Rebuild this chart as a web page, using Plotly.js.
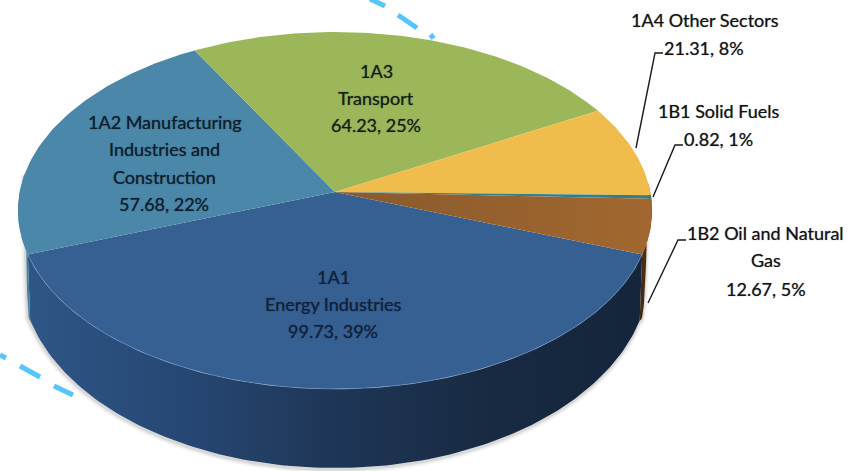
<!DOCTYPE html>
<html>
<head>
<meta charset="utf-8">
<script src="https://cdn.plot.ly/plotly-3.0.1.min.js"></script>
<style>html,body{margin:0;padding:0;background:#fff}#c{width:855px;height:471px}</style>
</head>
<body>
<div id="c"></div>
<script>
// ---- data ----
const categories = ['1A1 Energy Industries','1A2 Manufacturing Industries and Construction','1A3 Transport','1A4 Other Sectors','1B1 Solid Fuels','1B2 Oil and Natural Gas'];
const values = [99.73, 57.68, 64.23, 21.31, 0.82, 12.67];
const percents = [39, 22, 25, 8, 1, 5];
const topColors = ['#365f92','#4a87a8','#9bb75a','#f0bd4c','#2e7f8f','#a3662f'];
const labelLines = [
  ['1A1','Energy Industries'],
  ['1A2 Manufacturing','Industries and','Construction'],
  ['1A3','Transport'],
  ['1A4 Other Sectors'],
  ['1B1 Solid Fuels'],
  ['1B2 Oil and Natural','Gas']
];
const labelX = [[333,333,333],[165,164,164,164],[376,376,376],[704.5,703.5],[718.5,718.5],[765.7,766,766]];
const labelY = [[277,304,331],[122,149,177,204],[71,98,125],[20,48],[111,139],[233,260,289]];
const labelColors = ['#10213a','#0f1c2b','#141e10','#141414','#141414','#141414'];

// ---- pie geometry (perspective disc seen from above) ----
const APEX_X=335, APEX_Y=192, A=315.3, B=176.6, K=-0.1036, START=20;
const total = values.reduce((s,v)=>s+v,0);
const rad = d=>d*Math.PI/180;
function rim(phi){
  const u=Math.cos(rad(phi)), v=Math.sin(rad(phi)), w=1+K*v;
  return [APEX_X+A*u/w, APEX_Y+B*v/w];
}
function front(phi){ // base of the wall, front part
  const p=rim(phi);
  return [APEX_X+(p[0]-APEX_X)*0.992, APEX_Y+59.7+(p[1]-APEX_Y)*1.098];
}
function low(phi){ // base of the wall; tapers up to the silhouette at both sides
  const e0=START, e1=180-START;
  if(phi>=e0 && phi<=e1) return front(phi);
  const ref = phi<e0 ? e0 : e1, end = phi<e0 ? -3 : 186;
  const t=Math.min(1,(phi-ref)/(end-ref)), a=front(ref), b=rim(end);
  return [a[0]+(b[0]-a[0])*Math.sqrt(t), a[1]+(b[1]-a[1])*Math.pow(t,1.5)];
}
function steps(a,b){
  const out=[], n=Math.max(2,Math.ceil(Math.abs(b-a)));
  for(let i=0;i<=n;i++) out.push(a+(b-a)*i/n);
  return out;
}
function arc(a,b){ return steps(a,b).map(rim); }
let cum=START; const spans=values.map(v=>{const s=[cum,cum+v/total*360];cum=s[1];return s;});

const traces=[];
function poly(pts,opt){
  traces.push(Object.assign({type:'scatter',mode:'lines',x:pts.map(p=>p[0]),y:pts.map(p=>p[1]),
    fill:'toself',line:{width:0},hoverinfo:'skip',showlegend:false},opt));
}
function line(xs,ys,color,width,extra){
  traces.push({type:'scatter',mode:'lines',x:xs,y:ys,line:Object.assign({color:color,width:width},extra||{}),hoverinfo:'skip',showlegend:false});
}

// dashed blue lines behind the pie
line([370,385,null,398,417,null,430,434],[-1,6,null,15,28,null,38,35],'#55c5fb',5);
line([0,6,null,20,40,null,54,73],[355,358,null,366,377,null,386,395],'#55c5fb',5);

// soft shadow under the wall
const frontArc=steps(-3,186).map(low);
[[9,'rgba(120,120,120,0.05)'],[6,'rgba(110,110,110,0.08)'],[3,'rgba(90,90,90,0.14)']].forEach(s=>{
  line(frontArc.map(p=>p[0]-0.5),frontArc.map(p=>p[1]+1.5),s[1],s[0]);
});

// walls
const wallStyles=[
  {fillgradient:{type:'horizontal',colorscale:[[0,'#2e5686'],[0.27,'#264672'],[0.5,'#1e3656'],[0.75,'#182a42'],[1,'#14253b']]}},
  {fillcolor:'#41809e'},
  null,
  {fillcolor:'#8a6a2c'},
  {fillcolor:'#2a4a50'},
  {fillgradient:{type:'horizontal',colorscale:[[0,'#3f270f'],[1,'#5a3a17']]}}
];
spans.forEach((s,i)=>{
  if(!wallStyles[i]) return;
  // angles past a full turn wrap back to the right-hand side of the disc
  const wrap = s[0]>=360 ? 360 : 0;
  let a=s[0]-wrap, b=s[1]-wrap;
  if(i===3){ a=-3; b=s[1]-360; }       // the part of this slice that crosses the right edge
  a=Math.max(a,-3); b=Math.min(b,186);
  if(b<=a) return;
  const ph=steps(a,b), top=ph.map(rim), bot=ph.map(low).reverse();
  poly(top.concat(bot,[top[0]]),wallStyles[i]);
});

// top faces
spans.forEach((s,i)=>{
  const apex=[APEX_X,APEX_Y];
  const pts=[apex].concat(arc(s[0],s[1]),[apex]);
  const o={fillcolor:topColors[i]};
  if(i===5) o.fillgradient={type:'horizontal',colorscale:[[0,'#885a2c'],[1,'#a2672f']]};
  poly(pts,o);
});
// light rim on the front edge
const hl=arc(spans[0][0],spans[0][1]);
line(hl.map(p=>p[0]),hl.map(p=>p[1]),'rgba(120,155,195,0.6)',1);

// leader lines
line([636,655,663],[148,53,53],'#1a1a1a',1.4);
line([653,675,683],[197,145,145],'#1a1a1a',1.4);
line([648,678,686],[303,240,240],'#1a1a1a',1.4);

// labels
const annotations=[];
categories.forEach((c,i)=>{
  const lines=labelLines[i].concat([values[i].toFixed(2)+', '+percents[i]+'%']);
  lines.forEach((t,j)=>annotations.push({x:labelX[i][j],y:labelY[i][j],xref:'x',yref:'y',text:t,showarrow:false,
    xanchor:'center',yanchor:'middle',
    font:{family:'Lato, "Noto Sans", sans-serif',size:18,color:labelColors[i],shadow:'0 0 1px rgba(15,20,30,0.6)'}}));
});

Plotly.newPlot('c',traces,{
  width:855,height:471,margin:{l:0,r:0,t:0,b:0},
  paper_bgcolor:'#ffffff',plot_bgcolor:'#ffffff',showlegend:false,
  xaxis:{range:[0,855],visible:false,fixedrange:true},
  yaxis:{range:[471,0],visible:false,fixedrange:true},
  annotations:annotations
},{displayModeBar:false,staticPlot:true});
</script>
</body>
</html>
